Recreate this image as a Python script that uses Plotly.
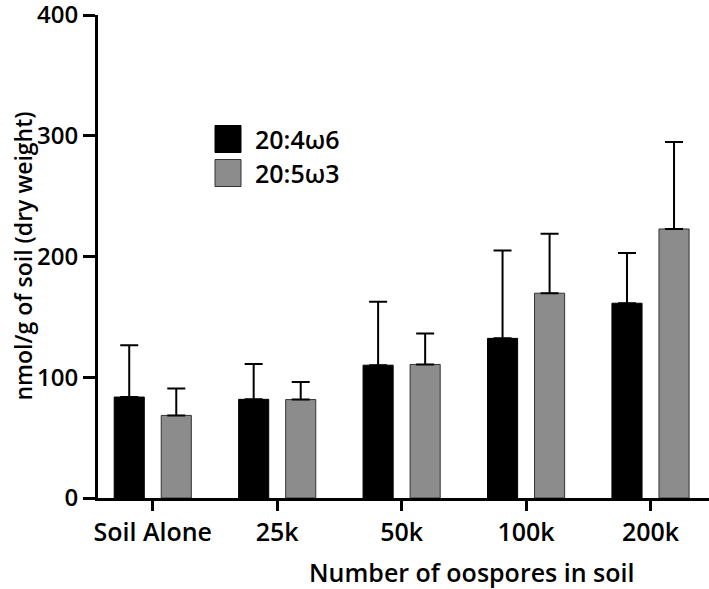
import plotly.graph_objects as go

categories = ["Soil Alone", "25k", "50k", "100k", "200k"]
series_names = ["20:4ω6", "20:5ω3"]
means_ara = [83.6, 81.7, 110.0, 132.2, 161.3]
err_ara = [43.0, 29.3, 52.6, 72.8, 41.5]
means_epa = [68.4, 81.5, 110.6, 169.6, 222.8]
err_epa = [22.2, 14.5, 25.7, 49.3, 72.0]
y_ticks = [0, 100, 200, 300, 400]

FONT = "Open Sans"
W8 = 600
colors = ["#000000", "#8c8c8c"]
outlines = ["#000000", "#333333"]

fig = go.Figure()
for name, vals, errs, c, oc in zip(series_names, [means_ara, means_epa], [err_ara, err_epa], colors, outlines):
    fig.add_trace(go.Bar(
        x=categories, y=vals, name=name,
        marker=dict(color=c, line=dict(color=oc, width=1)),
        error_y=dict(type="data", array=errs, arrayminus=[0] * len(errs), symmetric=False,
                     color="#000000", thickness=2, width=9),
        showlegend=False,
    ))

fig.update_layout(
    width=709, height=589,
    margin=dict(l=98, r=0, t=15, b=91, autoexpand=False),
    barmode="group", bargap=0.244, bargroupgap=0.36,
    plot_bgcolor="white", paper_bgcolor="white",
    font=dict(family=FONT, size=24, color="#000000"),
    xaxis=dict(range=[-0.44, 4.47], showline=True, linecolor="#000000", linewidth=3,
               ticks="outside", ticklen=10, tickwidth=3, tickcolor="#000000",
               tickfont=dict(family=FONT, size=25, color="#000000", weight=W8),
               ticklabeloverflow="allow", automargin=False,
               showgrid=False, zeroline=False),
    yaxis=dict(range=[0, 400], tickvals=y_ticks, showline=True, linecolor="#000000", linewidth=3,
               ticks="outside", ticklen=12, tickwidth=3, tickcolor="#000000",
               tickfont=dict(family=FONT, size=24, color="#000000", weight=W8),
               ticklabeloverflow="allow", automargin=False,
               showgrid=False, zeroline=False),
)

# y-axis title
fig.add_annotation(text="nmol/g of soil (dry weight)", xref="paper", yref="paper",
                   x=(22 - 98) / 611, y=0.5, xanchor="center", yanchor="middle",
                   textangle=-90, showarrow=False,
                   font=dict(family=FONT, size=23, color="#000000", weight=W8))

# x-axis title
fig.add_annotation(text="Number of oospores in soil", xref="paper", yref="paper",
                   x=(471 - 98) / 611, y=(498 - 572) / 483, xanchor="center", yanchor="middle",
                   showarrow=False,
                   font=dict(family=FONT, size=25, color="#000000", weight=W8))

# manual legend
leg_y = [139, 173]
for name, c, oc, yy in zip(series_names, colors, outlines, leg_y):
    fig.add_shape(type="rect", xref="paper", yref="paper",
                  x0=(215 - 98) / 611, x1=(241 - 98) / 611,
                  y0=(498 - (yy + 13.5)) / 483, y1=(498 - (yy - 13.5)) / 483,
                  fillcolor=c, line=dict(color=oc, width=1))
    fig.add_annotation(text=name, xref="paper", yref="paper",
                       x=(253 - 98) / 611, y=(498 - yy) / 483, xanchor="left", yanchor="middle",
                       showarrow=False, font=dict(family=FONT, size=25, color="#000000", weight=W8))

fig.write_html("out.html", config={"displayModeBar": False},
               post_script="document.body.style.margin='0';")
